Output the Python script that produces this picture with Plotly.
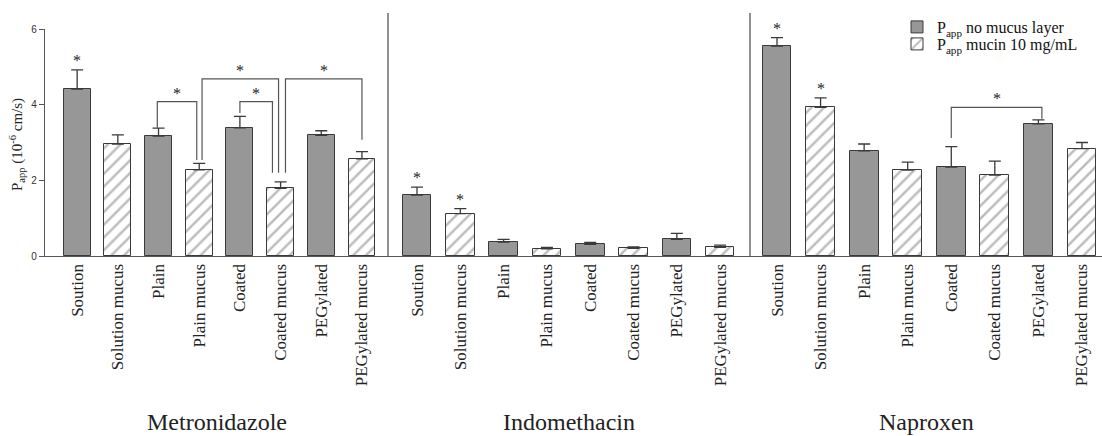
import plotly.graph_objects as go

drugs = ["Metronidazole", "Indomethacin", "Naproxen"]
categories = ["Soution", "Solution mucus", "Plain", "Plain mucus",
              "Coated", "Coated mucus", "PEGylated", "PEGylated mucus"]
mucus_flags = [False, True, False, True, False, True, False, True]

values = {
    "Metronidazole": [4.41, 2.96, 3.17, 2.28, 3.39, 1.79, 3.19, 2.57],
    "Indomethacin":  [1.61, 1.12, 0.37, 0.19, 0.31, 0.20, 0.44, 0.23],
    "Naproxen":      [5.55, 3.93, 2.78, 2.27, 2.35, 2.14, 3.49, 2.84],
}
errors = {
    "Metronidazole": [0.51, 0.24, 0.21, 0.17, 0.30, 0.17, 0.12, 0.19],
    "Indomethacin":  [0.21, 0.13, 0.07, 0.04, 0.05, 0.04, 0.16, 0.06],
    "Naproxen":      [0.22, 0.25, 0.18, 0.21, 0.54, 0.37, 0.11, 0.16],
}
# bars marked with an asterisk (significant vs others)
starred = {
    "Metronidazole": [0],
    "Indomethacin": [0, 1],
    "Naproxen": [0, 1],
}
# significance brackets: (drug, bar i, bar j, top level, left leg end, right leg end)
brackets = [
    ("Metronidazole", 2, 3, 4.08, 3.39, 2.54),
    ("Metronidazole", 4, 5, 4.08, 3.78, 2.20),
    ("Metronidazole", 3, 5, 4.68, 2.54, 2.20),
    ("Metronidazole", 5, 7, 4.68, 2.20, 3.07),
    ("Naproxen", 4, 6, 3.93, 3.12, 3.63),
]
# small horizontal offsets of bracket legs (style, category units)
leg_offsets = [(-0.03, -0.06), (0.0, -0.2), (0.07, -0.05), (0.12, 0.0), (0.0, 0.08)]

series_names = ["P<sub>app</sub> no mucus layer", "P<sub>app</sub> mucin 10 mg/mL"]
y_ticks = [0, 2, 4, 6]
y_title = "P<sub>app</sub> (10<sup>-6</sup> cm/s)"

# ---------------- layout geometry ----------------
W, H = 1102, 436
ML, MR, MT, MB = 45, 0, 29, 180
PW = W - ML - MR
PH = H - MT - MB
sep_px = [388, 750]
domains = [
    [0, (sep_px[0] - ML) / PW],
    [(sep_px[0] - ML) / PW, (sep_px[1] - ML) / PW],
    [(sep_px[1] - ML) / PW, 1],
]
x_ranges = [[-0.79, 7.64], [-0.67, 7.69], [-0.62, 7.46]]
legend_rows_px = [27, 44]      # vertical centre of each legend row
legend_left_px = 897

SOLID = "#979797"
EDGE = "#3a3a3a"
HATCH = "#7a7a7a"
LINE = "#555555"
serif = "Liberation Serif, Times New Roman, serif"
sans = "Liberation Sans, Arial, sans-serif"

fig = go.Figure()

for d_i, drug in enumerate(drugs):
    xa = "x" if d_i == 0 else f"x{d_i + 1}"
    for s_i, is_mucus in enumerate([False, True]):
        idx = [k for k, m in enumerate(mucus_flags) if m == is_mucus]
        xs = [categories[k] for k in idx]
        ys = [values[drug][k] for k in idx]
        es = [errors[drug][k] for k in idx]
        marker = dict(color=SOLID if not is_mucus else "white",
                      line=dict(color=EDGE, width=1))
        if is_mucus:
            marker["pattern"] = dict(shape="/", fgcolor=HATCH, bgcolor="white",
                                     size=9, solidity=0.28)
        fig.add_trace(go.Bar(
            x=xs, y=ys, xaxis=xa, yaxis="y",
            width=0.66, marker=marker,
            error_y=dict(type="data", array=es, arrayminus=[0] * len(es),
                         symmetric=False, color=EDGE, thickness=1.3, width=6),
            name=series_names[s_i],
            legend="legend" if s_i == 0 else "legend2",
            showlegend=(d_i == 0),
        ))

def legend_box(row_px):
    return dict(x=(legend_left_px - ML) / PW, xanchor="left",
                y=(MT + PH - row_px) / PH, yanchor="middle",
                font=dict(family=serif, size=16, color="#111"),
                bgcolor="rgba(0,0,0,0)", itemwidth=30, borderwidth=0)

layout = dict(
    width=W, height=H,
    margin=dict(l=ML, r=MR, t=MT, b=MB, pad=0, autoexpand=False),
    plot_bgcolor="white", paper_bgcolor="white",
    barmode="overlay", bargap=0,
    showlegend=True,
    legend=legend_box(legend_rows_px[0]),
    legend2=legend_box(legend_rows_px[1]),
    yaxis=dict(range=[0, 6], tickvals=y_ticks, ticks="outside", ticklen=5,
               tickcolor=LINE, showline=True, linecolor=LINE, linewidth=1.3,
               showgrid=False, zeroline=False,
               tickfont=dict(family=sans, size=10, color="#333"),
               domain=[0, 1]),
)
for d_i in range(3):
    key = "xaxis" if d_i == 0 else f"xaxis{d_i + 1}"
    layout[key] = dict(
        domain=domains[d_i], range=x_ranges[d_i], type="category",
        categoryorder="array", categoryarray=categories,
        tickangle=-90, ticks="", showline=True, linecolor=LINE, linewidth=1.3,
        showgrid=False, zeroline=False, anchor="y", automargin=False,
        tickfont=dict(family=serif, size=17, color="#222"),
    )
fig.update_layout(**layout)

# y-axis title
fig.add_annotation(text=y_title, xref="paper", yref="paper",
                   x=-(ML - 17) / PW, y=(MT + PH - 145) / PH, textangle=-90,
                   showarrow=False, xanchor="center", yanchor="middle",
                   font=dict(family=serif, size=15, color="#222"))

# group titles
for d_i, drug in enumerate(drugs):
    xa = "x" if d_i == 0 else f"x{d_i + 1}"
    fig.add_annotation(text=drug, xref=f"{xa} domain", yref="paper",
                       x=0.5, y=-(422 - MT - PH) / PH, showarrow=False,
                       xanchor="center", yanchor="middle",
                       font=dict(family=serif, size=24, color="#222"))

# separators between drug groups
for d_i in (1, 2):
    fig.add_shape(type="line", xref=f"x{d_i + 1} domain", yref="paper",
                  x0=0, x1=0, y0=0, y1=1 + 16 / PH,
                  line=dict(color=LINE, width=1.3))

# asterisks above bars
for d_i, drug in enumerate(drugs):
    xa = "x" if d_i == 0 else f"x{d_i + 1}"
    for k in starred[drug]:
        fig.add_annotation(text="*", xref=xa, yref="y", x=k,
                           y=values[drug][k] + errors[drug][k],
                           yshift=-1, showarrow=False, xanchor="center",
                           yanchor="bottom",
                           font=dict(family=serif, size=16, color="#222222"))

# significance brackets
for b_i, (drug, i, j, top, le, re) in enumerate(brackets):
    d_i = drugs.index(drug)
    xa = "x" if d_i == 0 else f"x{d_i + 1}"
    oi, oj = leg_offsets[b_i]
    xi, xj = i + oi, j + oj
    fig.add_shape(type="path", xref=xa, yref="y",
                  path=f"M {xi},{le} L {xi},{top} L {xj},{top} L {xj},{re}",
                  line=dict(color=LINE, width=1.2))
    fig.add_annotation(text="*", xref=xa, yref="y", x=(xi + xj) / 2, y=top,
                       yshift=-2, showarrow=False, xanchor="center",
                       yanchor="bottom",
                       font=dict(family=serif, size=16, color="#222222"))

fig.write_html("out.html", config={"displayModeBar": False},
               post_script="document.body.style.margin='0';document.body.style.overflow='hidden';")
